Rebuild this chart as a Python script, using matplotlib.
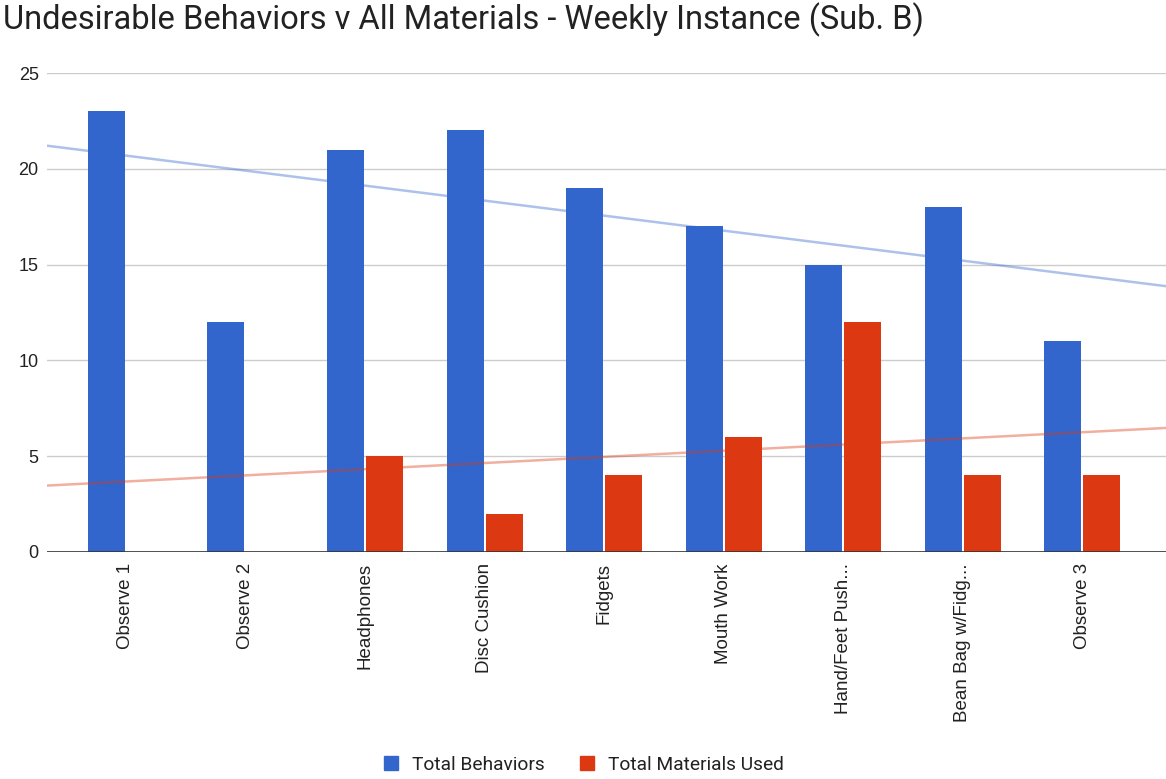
import numpy as np
import matplotlib
matplotlib.use("Agg")
import matplotlib.pyplot as plt
from matplotlib.patches import Patch

categories = ["Observe 1", "Observe 2", "Headphones", "Disc Cushion", "Fidgets",
              "Mouth Work", "Hand/Feet Push...", "Bean Bag w/Fidg...", "Observe 3"]
total_behaviors = [23, 12, 21, 22, 19, 17, 15, 18, 11]
# no materials were recorded for the two baseline observations
total_materials = [np.nan, np.nan, 5, 2, 4, 6, 12, 4, 4]

BLUE = "#3366cc"
RED = "#dc3912"

fig = plt.figure(figsize=(11.66, 7.79), dpi=100)
ax = fig.add_axes([47 / 1166, 1 - 552 / 779, 1 - 47 / 1166, (552 - 73) / 779])

x = np.arange(len(categories))
w = 0.31
gap = 0.008
beh = np.array(total_behaviors, dtype=float)
mat = np.array(total_materials, dtype=float)

ax.bar(x - w / 2 - gap, beh, width=w, color=BLUE, zorder=3)
ax.bar(x + w / 2 + gap, np.nan_to_num(mat), width=w, color=RED, zorder=3)

xlim = (-0.66, 8.70)
xs = np.array(xlim)

# linear trendlines fitted to the available points
ok = ~np.isnan(beh)
p1 = np.polyfit(x[ok], beh[ok], 1)
ax.plot(xs, np.polyval(p1, xs), color=BLUE, alpha=0.4, lw=1.8, zorder=4,
        solid_capstyle="butt")
ok = ~np.isnan(mat)
p2 = np.polyfit(x[ok], mat[ok], 1)
ax.plot(xs, np.polyval(p2, xs), color=RED, alpha=0.4, lw=1.8, zorder=4,
        solid_capstyle="butt")

ax.set_xlim(*xlim)
ax.set_ylim(0, 25)
ax.set_yticks([0, 5, 10, 15, 20, 25])
ax.yaxis.grid(True, color="#cccccc", lw=1, zorder=0)
ax.axhline(0, color="#333333", lw=1.2, zorder=5)
for s in ax.spines.values():
    s.set_visible(False)
ax.tick_params(axis="both", length=0, colors="#222222")
ax.tick_params(axis="y", pad=6, labelsize=13)
ax.tick_params(axis="x", pad=8, labelsize=13.5)
ax.set_xticks(x + 0.0)
ax.set_xticklabels(categories, rotation=90, va="top", ha="center",
                   family="Liberation Sans")
for lbl in ax.get_yticklabels():
    lbl.set_family("Liberation Sans")

fig.text(3 / 1166, 1 - 20 / 779, "Undesirable Behaviors v All Materials - Weekly Instance (Sub. B)",
         family="Roboto", fontsize=23.5, color="#222222", va="center", ha="left")

handles = [Patch(facecolor=BLUE, edgecolor=BLUE, label="Total Behaviors"),
           Patch(facecolor=RED, edgecolor=RED, label="Total Materials Used")]
fig.legend(handles=handles, loc="center", bbox_to_anchor=(584 / 1166, 1 - 765 / 779),
           ncol=2, frameon=False, prop={"family": "Roboto", "size": 13.8},
           handlelength=0.75, handleheight=0.75, handletextpad=0.75, columnspacing=1.8,
           labelcolor="#222222")

fig.savefig("out.png", dpi=100)
